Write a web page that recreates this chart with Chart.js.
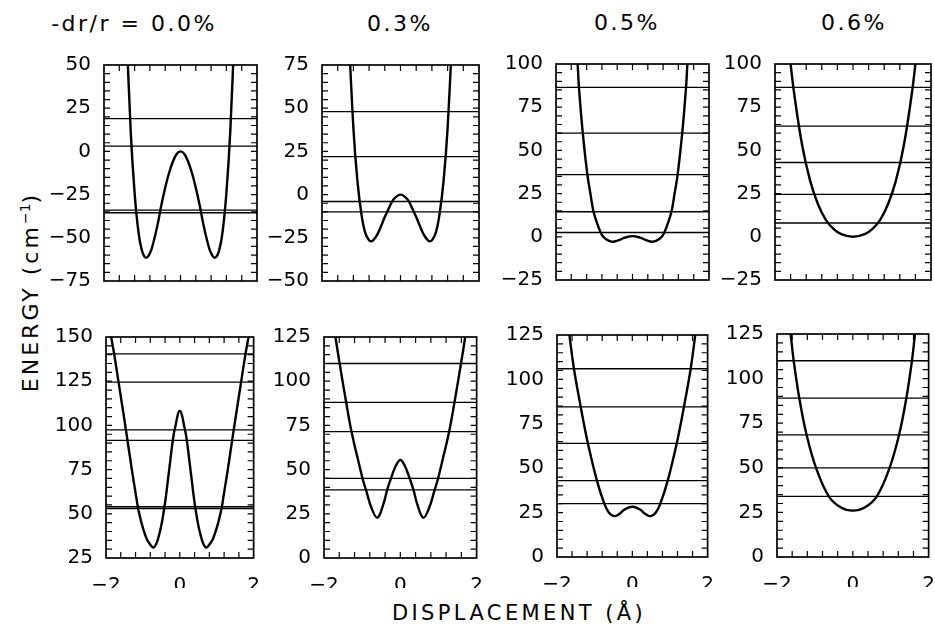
<!DOCTYPE html>
<html>
<head>
<meta charset="utf-8">
<script src="https://cdn.jsdelivr.net/npm/chart.js@4.4.1/dist/chart.umd.min.js"></script>
<style>
  html, body { margin: 0; padding: 0; background: #fff; }
  body { width: 935px; height: 633px; position: relative; overflow: hidden; font-family: 'DejaVu Sans', sans-serif; color: #000; }
  canvas { position: absolute; }
  .title { position: absolute; font-size: 22px; letter-spacing: 2.5px; transform: translate(-50%, -50%); white-space: nowrap; }
  .ylab { position: absolute; left: 30px; top: 292px; font-size: 22px; letter-spacing: 3px; white-space: nowrap; transform: translate(-50%, -50%) rotate(-90deg); }
  .ylab sup { font-size: 14px; letter-spacing: 0; }
  .xlab { position: absolute; left: 519px; top: 613px; font-size: 21px; letter-spacing: 3.4px; white-space: nowrap; transform: translate(-50%, -50%); }
</style>
</head>
<body>
<div class="ylab">ENERGY (cm<sup>−1</sup>)</div>
<div class="xlab">DISPLACEMENT (Å)</div>
<script>
// Column titles
const titles = ['-dr/r = 0.0%', '0.3%', '0.5%', '0.6%'];

// Displacement axis
const xRange = [-2, 2];
const xTickLabels = [-2, 0, 2];

// Top row: potential curves (displacement in Å, energy in cm-1) and energy levels
const yTop00 = [-75, 50];
const xTop00 = [-1.42, -1.3, -1.2, -1.1, -1.0, -0.9, -0.8, -0.7, -0.6, -0.5, -0.4, -0.3, -0.2, -0.1, 0,
                0.1, 0.2, 0.3, 0.4, 0.5, 0.6, 0.7, 0.8, 0.9, 1.0, 1.1, 1.2, 1.3, 1.42];
const eTop00 = [75, 11, -24, -46.5, -58, -61.5, -59, -52, -42.5, -31, -21, -12.5, -6, -1.5, 0,
                -1.5, -6, -12.5, -21, -31, -42.5, -52, -59, -61.5, -58, -46.5, -24, 11, 75];
const levelsTop00 = [19, 3, -34, -35.5];

const yTop03 = [-50, 75];
const xTop03 = [-1.35, -1.2, -1.1, -1.0, -0.9, -0.8, -0.75, -0.7, -0.6, -0.5, -0.4, -0.3, -0.2, -0.1, 0,
                0.1, 0.2, 0.3, 0.4, 0.5, 0.6, 0.7, 0.75, 0.8, 0.9, 1.0, 1.1, 1.2, 1.35];
const eTop03 = [108, 38.5, 8.5, -10.5, -22, -26.5, -27, -26.5, -23.5, -18.5, -13, -8, -3.5, -1, 0,
                -1, -3.5, -8, -13, -18.5, -23.5, -26.5, -27, -26.5, -22, -10.5, 8.5, 38.5, 108];
const levelsTop03 = [48, 22, -4, -10];

const yTop05 = [-25, 100];
const xTop05 = [-1.5, -1.435, -1.4, -1.3, -1.18, -1.1, -1.02, -0.92, -0.835, -0.78, -0.68, -0.545, -0.45, -0.35, -0.2, 0,
                0.2, 0.35, 0.45, 0.545, 0.68, 0.78, 0.835, 0.92, 1.02, 1.1, 1.18, 1.3, 1.4, 1.435, 1.5];
const eTop05 = [120, 100, 86.5, 60, 36, 25, 14.6, 7.5, 2.6, 0.5, -1.6, -2.8, -2.6, -1.9, -0.5, 0.4,
                -0.5, -1.9, -2.6, -2.8, -1.6, 0.5, 2.6, 7.5, 14.6, 25, 36, 60, 86.5, 100, 120];
const levelsTop05 = [86.5, 60, 36, 14.5, 2.5];

const yTop06 = [-25, 100];
const xTop06 = [-1.7, -1.6, -1.5, -1.3, -1.1, -0.9, -0.7, -0.5, -0.3, 0, 0.3, 0.5, 0.7, 0.9, 1.1, 1.3, 1.5, 1.6, 1.7];
const eTop06 = [121, 100, 81.5, 52.5, 32.5, 19, 10, 4.6, 1.5, 0, 1.5, 4.6, 10, 19, 32.5, 52.5, 81.5, 100, 121];
const levelsTop06 = [86.5, 64, 43, 24.5, 8];

// Bottom row
const yBot00 = [25, 150];
const xBot00 = [-1.95, -1.86, -1.78, -1.66, -1.46, -1.3, -1.2, -1.135, -1.07, -1.0, -0.92, -0.85, -0.7, -0.55, -0.42, -0.3, -0.19, -0.14, 0,
                0.14, 0.19, 0.3, 0.42, 0.55, 0.7, 0.85, 0.92, 1.0, 1.07, 1.135, 1.2, 1.3, 1.46, 1.66, 1.78, 1.86, 1.95];
const eBot00 = [162, 150, 140.5, 124.5, 97.5, 75, 62, 53.5, 47.5, 42, 37, 34, 31, 39, 53.5, 73, 91.5, 97.5, 108.2,
                97.5, 91.5, 73, 53.5, 39, 31, 34, 37, 42, 47.5, 53.5, 62, 75, 97.5, 124.5, 140.5, 150, 162];
const levelsBot00 = [140.5, 124.5, 97.5, 91.5, 54, 53];

const yBot03 = [0, 125];
const xBot03 = [-1.8, -1.7, -1.59, -1.415, -1.28, -1.13, -0.99, -0.9, -0.75, -0.6, -0.45, -0.345, -0.245, -0.12, 0,
                0.12, 0.245, 0.345, 0.45, 0.6, 0.75, 0.9, 0.99, 1.13, 1.28, 1.415, 1.59, 1.7, 1.8];
const eBot03 = [140, 125, 110, 87.5, 71.5, 57.5, 45, 38.5, 28, 22.8, 30, 38.5, 45, 52, 55.4,
                52, 45, 38.5, 30, 22.8, 28, 38.5, 45, 57.5, 71.5, 87.5, 110, 125, 140];
const levelsBot03 = [110, 88, 71.5, 45, 38.5];

const yBot05 = [0, 125];
const xBot05 = [-1.75, -1.67, -1.55, -1.37, -1.18, -0.94, -0.75, -0.62, -0.485, -0.35, -0.2, 0,
                0.2, 0.35, 0.485, 0.62, 0.75, 0.94, 1.18, 1.37, 1.55, 1.67, 1.75];
const eBot05 = [140, 125, 106, 84.5, 64, 43, 30.4, 24.9, 23, 24.2, 26.8, 28.3,
                26.8, 24.2, 23, 24.9, 30.4, 43, 64, 84.5, 106, 125, 140];
const levelsBot05 = [106, 84.5, 64, 43, 30];

const yBot06 = [0, 125];
const xBot06 = [-1.72, -1.64, -1.56, -1.41, -1.22, -0.97, -0.63, -0.3, 0, 0.3, 0.63, 0.97, 1.22, 1.41, 1.56, 1.64, 1.72];
const eBot06 = [141, 125, 110, 88.8, 68.5, 50, 33.9, 27.6, 26, 27.6, 33.9, 50, 68.5, 88.8, 110, 125, 141];
const levelsBot06 = [110, 89, 68.5, 50, 34];

// Plot boxes: [left, top, width, height] of each plotting area
const panels = [
  { xs: xTop00, es: eTop00, levels: levelsTop00, yr: yTop00, box: [104, 60, 153, 226], bottom: false },
  { xs: xTop03, es: eTop03, levels: levelsTop03, yr: yTop03, box: [322, 60, 157, 226], bottom: false },
  { xs: xTop05, es: eTop05, levels: levelsTop05, yr: yTop05, box: [556, 59, 153, 226], bottom: false },
  { xs: xTop06, es: eTop06, levels: levelsTop06, yr: yTop06, box: [775, 59, 156, 226], bottom: false },
  { xs: xBot00, es: eBot00, levels: levelsBot00, yr: yBot00, box: [106, 332, 152, 226], bottom: true },
  { xs: xBot03, es: eBot03, levels: levelsBot03, yr: yBot03, box: [324, 332, 157, 226], bottom: true },
  { xs: xBot05, es: eBot05, levels: levelsBot05, yr: yBot05, box: [557, 330, 155, 227], bottom: true },
  { xs: xBot06, es: eBot06, levels: levelsBot06, yr: yBot06, box: [777, 329, 156, 228], bottom: true }
];
const titleCenters = [[134, 23], [400, 23], [627, 22], [854, 22]];

const AXIS_W = 62, PAD_T = 12, PAD_R = 10, PAD_B = 12, XAXIS_H = 30;
const FONT = "'DejaVu Sans', sans-serif";

const fmt = v => (v < 0 ? '\u2212' + Math.abs(v) : String(v));

// Frame plus inward ticks on all four sides
const frameTicks = {
  id: 'frameTicks',
  afterDatasetsDraw(chart) {
    const { ctx, chartArea: a, scales: { x, y } } = chart;
    ctx.save();
    ctx.strokeStyle = '#000';
    ctx.lineWidth = 1.2;
    ctx.beginPath();
    for (let v = y.min + 5; v < y.max; v += 5) {
      const py = y.getPixelForValue(v);
      ctx.moveTo(a.left, py); ctx.lineTo(a.left + 6, py);
      ctx.moveTo(a.right, py); ctx.lineTo(a.right - 6, py);
    }
    for (let i = 1; i < 10; i++) {
      const px = x.getPixelForValue(xRange[0] + i * 0.4);
      ctx.moveTo(px, a.top); ctx.lineTo(px, a.top + 6);
      ctx.moveTo(px, a.bottom); ctx.lineTo(px, a.bottom - 6);
    }
    ctx.stroke();
    ctx.lineWidth = 1.7;
    ctx.strokeRect(a.left, a.top, a.width, a.height);
    ctx.restore();
  }
};

titles.forEach((t, i) => {
  const d = document.createElement('div');
  d.className = 'title';
  d.textContent = t;
  d.style.left = titleCenters[i][0] + 'px';
  d.style.top = titleCenters[i][1] + 'px';
  document.body.appendChild(d);
});

panels.forEach(p => {
  const [bl, bt, bw, bh] = p.box;
  const xh = p.bottom ? XAXIS_H : 0;
  const canvas = document.createElement('canvas');
  canvas.width = AXIS_W + bw + PAD_R;
  canvas.height = PAD_T + bh + xh + PAD_B;
  canvas.style.left = (bl - AXIS_W) + 'px';
  canvas.style.top = (bt - PAD_T) + 'px';
  document.body.appendChild(canvas);

  const datasets = [{
    data: p.xs.map((x, i) => ({ x: x, y: p.es[i] })),
    borderColor: '#000',
    borderWidth: 2.4,
    pointRadius: 0,
    tension: 0.4,
    showLine: true
  }];
  p.levels.forEach(l => {
    datasets.push({
      data: [{ x: xRange[0], y: l }, { x: xRange[1], y: l }],
      borderColor: '#000',
      borderWidth: 1.3,
      pointRadius: 0,
      showLine: true
    });
  });

  new Chart(canvas.getContext('2d'), {
    type: 'scatter',
    data: { datasets },
    options: {
      responsive: false,
      animation: false,
      events: [],
      layout: { padding: { left: 0, top: PAD_T, right: PAD_R, bottom: PAD_B } },
      plugins: { legend: { display: false }, tooltip: { enabled: false } },
      scales: {
        x: {
          type: 'linear',
          min: xRange[0],
          max: xRange[1],
          grid: { display: false },
          border: { display: false },
          afterFit: s => { s.height = xh; },
          afterBuildTicks: s => { s.ticks = xTickLabels.map(v => ({ value: v })); },
          ticks: {
            display: p.bottom,
            padding: 8,
            color: '#000',
            font: { family: FONT, size: 20 },
            maxRotation: 0,
            callback: v => fmt(v)
          }
        },
        y: {
          type: 'linear',
          min: p.yr[0],
          max: p.yr[1],
          grid: { display: false },
          border: { display: false },
          afterFit: s => { s.width = AXIS_W; },
          ticks: {
            stepSize: 25,
            padding: 5,
            color: '#000',
            font: { family: FONT, size: 20 },
            callback: v => fmt(v)
          }
        }
      }
    },
    plugins: [frameTicks]
  });
});
</script>
</body>
</html>
